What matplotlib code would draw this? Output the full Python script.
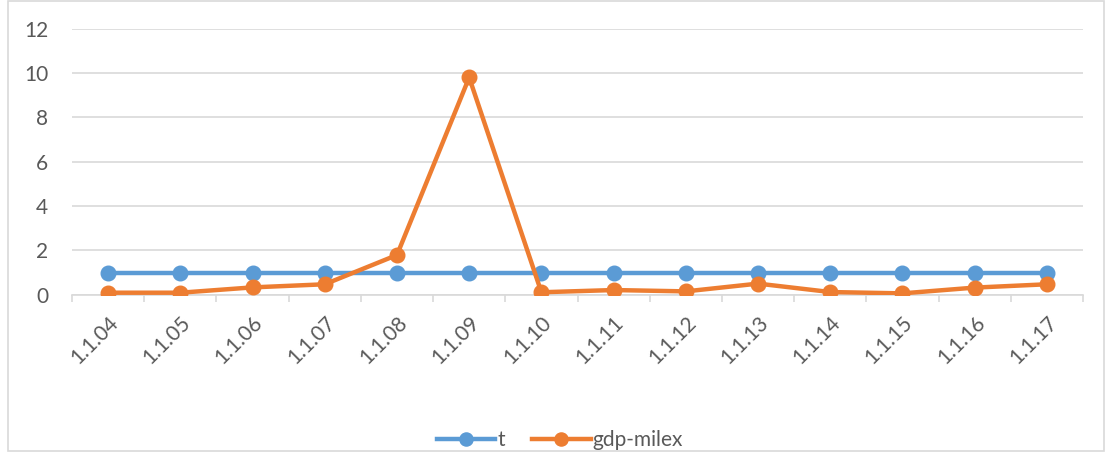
import matplotlib
matplotlib.use('Agg')
import matplotlib.pyplot as plt
from matplotlib.patches import Rectangle
import numpy as np

categories = ['1.1.04', '1.1.05', '1.1.06', '1.1.07', '1.1.08', '1.1.09', '1.1.10',
              '1.1.11', '1.1.12', '1.1.13', '1.1.14', '1.1.15', '1.1.16', '1.1.17']
t_vals = [1, 1, 1, 1, 1, 1, 1, 1, 1, 1, 1, 1, 1, 1]
gdp_milex = [0.09, 0.09, 0.33, 0.47, 1.79, 9.8, 0.11, 0.21, 0.15, 0.5, 0.12, 0.06, 0.32, 0.47]

blue = '#5B9BD5'
orange = '#ED7D31'
grid_col = '#D9D9D9'
text_col = '#595959'

plt.rcParams['font.family'] = ['Lato', 'DejaVu Sans']

fig = plt.figure(figsize=(11.06, 4.55), dpi=100)
ax = fig.add_axes([72 / 1106, 1 - 294.7 / 455, (1083 - 72) / 1106, (294.7 - 28.7) / 455])

x = np.arange(len(categories))
ax.plot(x, t_vals, color=blue, lw=3.2, marker='o', ms=10.5, label='t', zorder=3)
ax.plot(x, gdp_milex, color=orange, lw=3.2, marker='o', ms=10.5, label='gdp-milex', zorder=4)

ax.set_xlim(-0.5, len(categories) - 0.5)
ax.set_ylim(0, 12)
ax.set_yticks(range(0, 13, 2))
ax.yaxis.grid(True, color=grid_col, lw=1.2)
ax.set_axisbelow(True)
for s in ['top', 'right', 'left']:
    ax.spines[s].set_visible(False)
ax.spines['bottom'].set_color(grid_col)
ax.spines['bottom'].set_linewidth(1.2)

ax.tick_params(axis='y', length=0, pad=17, labelsize=15, labelcolor=text_col)
ax.set_xticks(x)
ax.set_xticklabels(categories, rotation=45, ha='right', rotation_mode='anchor')
ax.tick_params(axis='x', which='major', length=0, pad=13, labelsize=15, labelcolor=text_col)
ax.set_xticks(np.arange(-0.5, len(categories)), minor=True)
ax.tick_params(axis='x', which='minor', length=5, width=1.2, color=grid_col)

leg = fig.legend(loc='center', bbox_to_anchor=(560 / 1106, 1 - 440 / 455), ncol=2,
                 frameon=False, fontsize=15, handlelength=2.8, columnspacing=1.3,
                 handletextpad=0.1, markerscale=0.9)
for txt in leg.get_texts():
    txt.set_color(text_col)

fig.patches.append(Rectangle((8 / 1106, 4 / 455), 1096 / 1106, 450 / 455, transform=fig.transFigure,
                             fill=False, edgecolor=grid_col, lw=1.2))

fig.savefig('out.png', dpi=100)
